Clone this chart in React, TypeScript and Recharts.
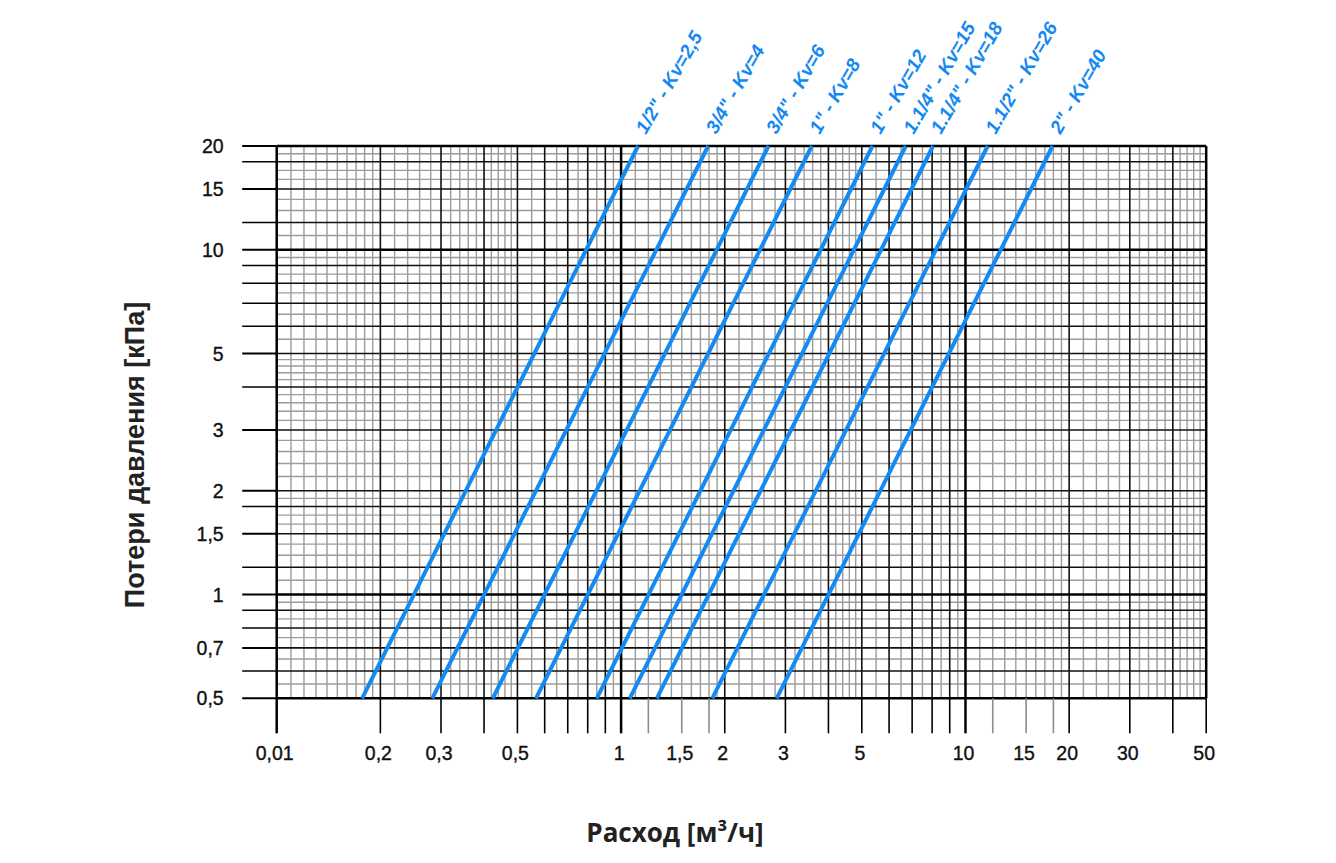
import React from 'react';
import { LineChart, Line, XAxis, YAxis, ReferenceLine, Label } from 'recharts';

// ---- data ----
const seriesNames = [
  '1/2" - Kv=2,5',
  '3/4" - Kv=4',
  '3/4" - Kv=6',
  '1" - Kv=8',
  '1" - Kv=12',
  '1.1/4" - Kv=15',
  '1.1/4" - Kv=18',
  '1.1/2" - Kv=26',
  '2" - Kv=40',
];
// flow [m3/h] read where each line meets 0.5 kPa and 20 kPa
const flowAtLow = [0.177, 0.283, 0.424, 0.566, 0.85, 1.06, 1.27, 1.84, 2.83];
const flowAtHigh = [1.12, 1.79, 2.68, 3.58, 5.37, 6.71, 8.05, 11.6, 17.9];
const pressureLow = 0.5;
const pressureHigh = 20;

// ---- axes ----
const xDomain = [0.1, 50];
const yDomain = [0.5, 20];
const xLabelValues = [0.1, 0.2, 0.3, 0.5, 1, 1.5, 2, 3, 5, 10, 15, 20, 30, 50];
const xLabelTexts = ['0,01', '0,2', '0,3', '0,5', '1', '1,5', '2', '3', '5', '10', '15', '20', '30', '50'];
const xStubValues = [0.1, 0.2, 0.3, 0.4, 0.5, 0.6, 0.7, 0.8, 0.9, 1, 1.2, 1.5, 1.8, 2, 3, 4, 5, 6, 7, 8, 9, 10, 12, 15, 18, 20, 30, 40, 50];
const xStubGray = [1.2, 1.5, 1.8, 12, 15, 18];
const xStubThick = [0.1, 1, 10];
const yTickValues = [0.5, 0.6, 0.7, 0.8, 0.9, 1, 1.2, 1.5, 1.8, 2, 3, 4, 5, 6, 7, 8, 9, 10, 12, 15, 18, 20];
const yLabelValues = [0.5, 0.7, 1, 1.5, 2, 3, 5, 10, 15, 20];
const yLabelTexts = ['0,5', '0,7', '1', '1,5', '2', '3', '5', '10', '15', '20'];

// ---- log-paper grid ----
const decades = [0.1, 1, 10];
const vThickMant = [1];
const vBlackMant = [2, 3, 4, 5, 6, 7, 8, 9];
const vGrayMant = [1.1, 1.2, 1.3, 1.4, 1.5, 1.6, 1.7, 1.8, 1.9, 2.2, 2.4, 2.6, 2.8, 3.2, 3.4, 3.6, 3.8, 4.2, 4.4, 4.6, 4.8, 5.5, 6.5, 7.5, 8.5, 9.5];
const hThickVals = [0.5, 1, 10, 20];
const hBlackVals = [0.6, 0.7, 0.8, 0.9, 1.2, 1.5, 1.8, 2, 3, 4, 5, 6, 7, 8, 9, 12, 15, 18];
const hGrayVals = [0.55, 0.65, 0.75, 0.85, 0.95, 1.1, 1.3, 1.4, 1.6, 1.7, 1.9, 2.2, 2.4, 2.6, 2.8, 3.2, 3.4, 3.6, 3.8, 4.2, 4.4, 4.6, 4.8, 5.5, 6.5, 7.5, 8.5, 9.5, 11, 13, 14, 16, 17, 19];

const inX = (v: number) => v >= xDomain[0] - 1e-9 && v <= xDomain[1] + 1e-9;
const scaleList = (mants: number[]) =>
  decades.flatMap((d) => mants.map((m) => +(m * d).toPrecision(6))).filter(inX);

const vThick = [...scaleList(vThickMant), 50];
const vBlack = scaleList(vBlackMant);
const vGray = scaleList(vGrayMant);

const BLUE = '#1589f2';
const FONT = '"Liberation Sans", Arial, Helvetica, sans-serif';
const W = 1336;
const H = 863;

const seriesData = seriesNames.map((_, i) => [
  { q: flowAtLow[i], dp: pressureLow },
  { q: flowAtHigh[i], dp: pressureHigh },
]);

const XTick = (props: any) => {
  const { x, y, payload } = props;
  const v = payload.value;
  const li = xLabelValues.indexOf(v);
  const gray = xStubGray.includes(v);
  const thick = xStubThick.includes(v);
  return (
    <g>
      <line x1={x} x2={x} y1={y} y2={y + 35} stroke={gray ? '#8c8c8c' : '#000'} strokeWidth={thick ? 2.5 : 1.6} />
      {li >= 0 && (
        <text x={x - 2} y={y + 61.5} textAnchor="middle" fontSize={19.5} fontFamily={FONT} fill="#111" stroke="#111" strokeWidth={0.35}>
          {xLabelTexts[li]}
        </text>
      )}
    </g>
  );
};

const YTick = (props: any) => {
  const { x, y, payload } = props;
  const v = payload.value;
  const li = yLabelValues.indexOf(v);
  return (
    <g>
      <line x1={x - 34.5} x2={x} y1={y} y2={y} stroke="#000" strokeWidth={li >= 0 ? 2 : 1.5} />
      {li >= 0 && (
        <text x={x - 53} y={y + 7} textAnchor="end" fontSize={19.5} fontFamily={FONT} fill="#111" stroke="#111" strokeWidth={0.35}>
          {yLabelTexts[li]}
        </text>
      )}
    </g>
  );
};

const makeLabelDot = (i: number) => (p: any) => {
  const { cx, cy, index } = p;
  if (index !== 1 || cx == null) return <g key={`d${i}-${index}`} />;
  const ax = cx + 8;
  const ay = cy - 11;
  return (
    <text
      key={`d${i}-${index}`}
      x={ax}
      y={ay}
      transform={`rotate(-60 ${ax} ${ay})`}
      fontSize={19}
      fontWeight="bold"
      fontStyle="italic"
      fontFamily={FONT}
      fill={BLUE}
    >
      {seriesNames[i]}
    </text>
  );
};

export default function App() {
  return (
    <div style={{ margin: -8, width: W, height: H, position: 'relative' }}>
      <LineChart
        width={W}
        height={H}
        margin={{ top: 146, right: 129.8, bottom: 104.7, left: 0 }}
      >
        <XAxis
          dataKey="q"
          type="number"
          scale="log"
          domain={xDomain}
          ticks={xStubValues}
          interval={0}
          tick={<XTick />}
          tickSize={0}
          tickMargin={0}
          tickLine={false}
          axisLine={false}
          height={60}
        >
          <Label
            content={() => (
              <text x={675} y={842} textAnchor="middle" fontSize={26} fontWeight="bold" fontFamily='"Open Sans", "Noto Sans", sans-serif' fill="#222">
                Расход [м³/ч]
              </text>
            )}
          />
        </XAxis>
        <YAxis
          dataKey="dp"
          type="number"
          scale="log"
          domain={yDomain}
          ticks={yTickValues}
          interval={0}
          tick={<YTick />}
          tickSize={0}
          tickMargin={0}
          tickLine={false}
          axisLine={false}
          width={276.7}
        >
          <Label
            content={() => (
              <text
                x={135}
                y={455}
                transform="rotate(-90 135 455)"
                textAnchor="middle"
                dominantBaseline="central"
                fontSize={27}
                fontWeight="bold"
                fontFamily={FONT}
                fill="#222"
              >
                Потери давления [кПа]
              </text>
            )}
          />
        </YAxis>

        {vGray.map((v) => (
          <ReferenceLine key={`vg${v}`} x={v} stroke="#9c9c9c" strokeWidth={1.4} />
        ))}
        {hGrayVals.map((v) => (
          <ReferenceLine key={`hg${v}`} y={v} stroke="#9c9c9c" strokeWidth={1.4} />
        ))}
        {vBlack.map((v) => (
          <ReferenceLine key={`vb${v}`} x={v} stroke="#111" strokeWidth={1.6} />
        ))}
        {hBlackVals.map((v) => (
          <ReferenceLine key={`hb${v}`} y={v} stroke="#111" strokeWidth={1.6} />
        ))}
        {vThick.map((v) => (
          <ReferenceLine key={`vt${v}`} x={v} stroke="#000" strokeWidth={2.5} />
        ))}
        {hThickVals.map((v) => (
          <ReferenceLine key={`ht${v}`} y={v} stroke="#000" strokeWidth={2.5} />
        ))}

        {seriesData.map((d, i) => (
          <Line
            key={seriesNames[i]}
            data={d}
            dataKey="dp"
            stroke={BLUE}
            strokeWidth={4}
            dot={makeLabelDot(i)}
            activeDot={false}
            isAnimationActive={false}
            legendType="none"
          />
        ))}
      </LineChart>
      <svg
        width={W}
        height={H}
        style={{ position: 'absolute', left: 0, top: 0, zIndex: 5, pointerEvents: 'none' }}
      >
        <rect x={6} y={4} width={1324} height={900} fill="none" stroke="#5e5e5e" strokeWidth={2.5} />
      </svg>
    </div>
  );
}
